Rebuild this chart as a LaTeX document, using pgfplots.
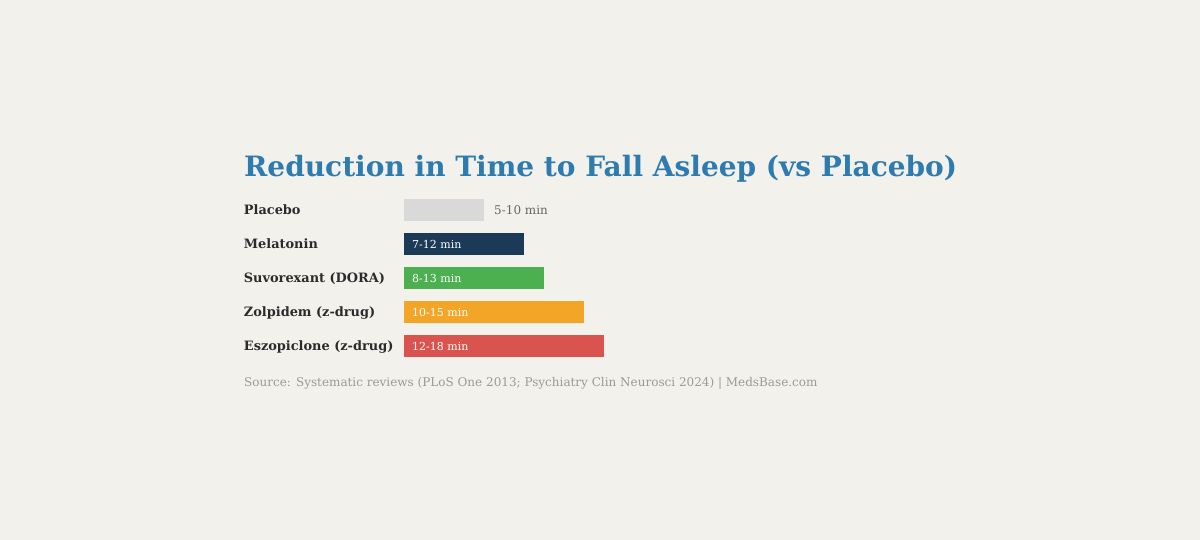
\documentclass[border=0pt]{standalone}
\usepackage{pgfplots}
\pgfplotsset{compat=1.18}
\usepackage{fontspec}
\setmainfont{DejaVu Serif}
\definecolor{bg}{HTML}{F3F1EC}
\definecolor{titleblue}{HTML}{2E7BB0}
\definecolor{cplacebo}{HTML}{D9D9D9}
\definecolor{cmel}{HTML}{1B3A57}
\definecolor{csuv}{HTML}{4CAF50}
\definecolor{czol}{HTML}{F2A527}
\definecolor{cesz}{HTML}{D9534F}
\definecolor{labtext}{HTML}{2B2B2B}
\definecolor{srcgray}{HTML}{9A9A9A}
\definecolor{plgray}{HTML}{666666}
\begin{document}
\begin{tikzpicture}[x=1pt,y=1pt]
\fill[bg] (0,0) rectangle (1200,540);
\useasboundingbox (0,0) rectangle (1200,540);
\node[anchor=west,inner sep=0,text=titleblue,font=\fontsize{28}{32}\selectfont\bfseries] at (244,371) {Reduction in Time to Fall Asleep (vs Placebo)};
\node[anchor=west,inner sep=0,text=srcgray,font=\fontsize{12}{14}\selectfont] at (244,157) {Source: Systematic reviews (PLoS One 2013; Psychiatry Clin Neurosci 2024) | MedsBase.com};
\begin{axis}[
  at={(404pt,177pt)}, anchor=south west,
  scale only axis, width=200pt, height=170pt,
  xmin=0, xmax=100, ymin=-0.5, ymax=4.5, y dir=reverse,
  enlargelimits=false, clip=false,
  axis line style={draw=none}, tick style={draw=none},
  xtick=\empty, ytick={0,1,2,3,4},
  yticklabels={Placebo,Melatonin,Suvorexant (DORA),Zolpidem (z-drug),Eszopiclone (z-drug)},
  yticklabel style={anchor=base west, inner sep=0pt, xshift=-156pt, yshift=-4.6pt, text=labtext, font=\fontsize{12.9}{15}\selectfont\bfseries},
  xbar, bar width=22pt, bar shift=0pt,
]
\addplot[draw=none, fill=cplacebo] coordinates {(40,0)};
\addplot[draw=none, fill=cmel] coordinates {(60,1)};
\addplot[draw=none, fill=csuv] coordinates {(70,2)};
\addplot[draw=none, fill=czol] coordinates {(90,3)};
\addplot[draw=none, fill=cesz] coordinates {(100,4)};
\addplot[draw=none, mark=none, xbar=false, only marks, point meta=explicit symbolic,
  nodes near coords, nodes near coords align={anchor=base west},
  every node near coord/.append style={anchor=base west, inner sep=0pt, xshift=8pt, yshift=-4.7pt, text=white, font=\fontsize{11}{13}\selectfont}]
  coordinates {(0,1) [7-12 min] (0,2) [8-13 min] (0,3) [10-15 min] (0,4) [12-18 min]};
\addplot[draw=none, mark=none, xbar=false, only marks, point meta=explicit symbolic,
  nodes near coords, nodes near coords align={anchor=base west},
  every node near coord/.append style={anchor=base west, inner sep=0pt, xshift=10pt, yshift=-4.4pt, text=plgray, font=\fontsize{12}{14}\selectfont}]
  coordinates {(40,0) [5-10 min]};
\end{axis}
\end{tikzpicture}
\end{document}
